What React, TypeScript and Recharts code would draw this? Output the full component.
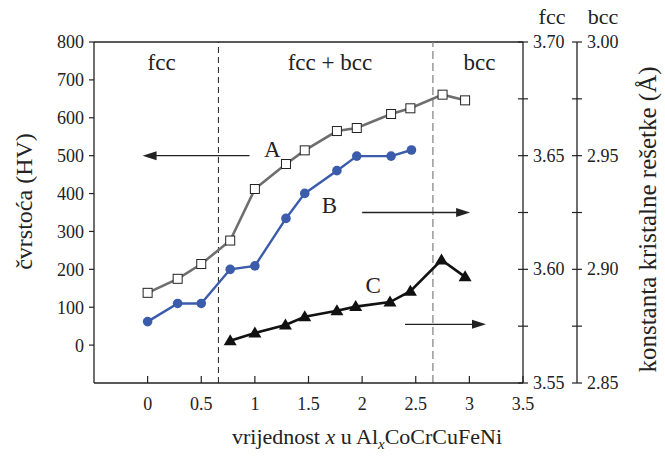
import React from "react";
import {
  ComposedChart,
  Line,
  XAxis,
  YAxis,
  ReferenceLine,
  ReferenceDot,
} from "recharts";

// A: tvrdoća (HV), lijeva os
const A_X = [0, 0.28, 0.5, 0.77, 1.0, 1.29, 1.465, 1.765, 1.95, 2.27, 2.45, 2.75, 2.96];
const A_HV = [138, 175, 214, 276, 412, 478, 514, 565, 573, 610, 625, 661, 646];

// B: konstanta rešetke fcc
const B_X = [0, 0.28, 0.5, 0.77, 1.0, 1.29, 1.465, 1.765, 1.95, 2.27, 2.46];
const B_FCC = [3.577, 3.585, 3.585, 3.6, 3.6015, 3.6224, 3.6334, 3.6434, 3.6498, 3.6498, 3.6525];

// C: konstanta rešetke bcc
const C_X = [0.77, 1.0, 1.285, 1.465, 1.765, 1.94, 2.26, 2.45, 2.74, 2.96];
const C_BCC = [2.8686, 2.872, 2.8755, 2.8791, 2.8818, 2.8836, 2.8856, 2.8904, 2.9041, 2.8967];

const X_TICKS = [0, 0.5, 1, 1.5, 2, 2.5, 3, 3.5];
const HV_TICKS = [0, 100, 200, 300, 400, 500, 600, 700, 800];
const FCC_TICKS = [3.55, 3.575, 3.6, 3.625, 3.65, 3.675, 3.7];
const BCC_TICKS = [2.85, 2.875, 2.9, 2.925, 2.95, 2.975, 3.0];

const PHASE_BOUNDS = [0.66, 2.66];

const aData = A_X.map((x, i) => ({ x, hv: A_HV[i] }));
const bData = B_X.map((x, i) => ({ x, fcc: B_FCC[i] }));
const cData = C_X.map((x, i) => ({ x, bcc: C_BCC[i] }));

// desne osi: unutarnja fcc, vanjska bcc
const FCC_AXIS = "rightA";
const BCC_AXIS = "rightB";

const FONT = '"Liberation Serif", "DejaVu Serif", serif';
const INK = "#222";

const SquareDot = (p: any) => (
  <rect x={p.cx - 4.5} y={p.cy - 4.5} width={9} height={9} fill="#fff" stroke="#222" strokeWidth={1} />
);
const CircleDot = (p: any) => <circle cx={p.cx} cy={p.cy} r={4.8} fill="#3a5cab" />;
const TriangleDot = (p: any) => (
  <polygon
    points={`${p.cx},${p.cy - 6.5} ${p.cx - 6.5},${p.cy + 4.5} ${p.cx + 6.5},${p.cy + 4.5}`}
    fill="#111"
  />
);

const XTick = ({ x, y, payload }: any) => (
  <g>
    <line x1={x} x2={x} y1={y} y2={y - 7} stroke={INK} strokeWidth={1.2} />
    <text x={x} y={y + 27} textAnchor="middle" fontFamily={FONT} fontSize={18} fill={INK}>
      {String(payload.value)}
    </text>
  </g>
);

const RightTick = ({ x, y, payload, index }: any) => (
  <g>
    <line x1={x - 5} x2={x + 5} y1={y} y2={y} stroke={INK} strokeWidth={1.2} />
    {index % 2 === 0 && (
      <text x={x + 10} y={y + 6} fontFamily={FONT} fontSize={18} fill={INK}>
        {Number(payload.value).toFixed(2)}
      </text>
    )}
  </g>
);

const Arrow = (p: any) => {
  const { x1, y1, x2, y2 } = p;
  const dir = x2 > x1 ? 1 : -1;
  return (
    <g>
      <line x1={x1} y1={y1} x2={x2 - dir * 8} y2={y2} stroke="#222" strokeWidth={1.4} />
      <polygon points={`${x2},${y2} ${x2 - dir * 14},${y2 - 4.5} ${x2 - dir * 14},${y2 + 4.5}`} fill="#222" />
    </g>
  );
};

const textShape = (txt: string, size: number) => (p: any) => (
  <text x={p.cx} y={p.cy} textAnchor="middle" fontFamily={FONT} fontSize={size} fill={INK}>
    {txt}
  </text>
);

const LeftTitle = ({ viewBox }: any) => {
  const cx = viewBox.x + 24;
  const cy = viewBox.y + viewBox.height / 2 - 11;
  return (
    <text
      x={cx}
      y={cy}
      transform={`rotate(-90 ${cx} ${cy})`}
      textAnchor="middle"
      dominantBaseline="central"
      fontFamily={FONT}
      fontSize={24}
      fill={INK}
    >
      čvrstoća (HV)
    </text>
  );
};

const FccTitle = ({ viewBox }: any) => (
  <text x={viewBox.x + 29} y={viewBox.y - 18} textAnchor="middle" fontFamily={FONT} fontSize={22} fill={INK}>
    fcc
  </text>
);

const BccTitle = ({ viewBox }: any) => {
  const cx = viewBox.x + 70;
  const cy = viewBox.y + viewBox.height / 2 + 7;
  return (
    <g>
      <text x={viewBox.x + 26} y={viewBox.y - 18} textAnchor="middle" fontFamily={FONT} fontSize={22} fill={INK}>
        bcc
      </text>
      <text
        x={cx}
        y={cy}
        transform={`rotate(-90 ${cx} ${cy})`}
        textAnchor="middle"
        dominantBaseline="central"
        fontFamily={FONT}
        fontSize={25}
        fill={INK}
      >
        konstanta kristalne rešetke (Å)
      </text>
    </g>
  );
};

const XTitle = ({ viewBox }: any) => (
  <text x={367} y={viewBox.y + 61} textAnchor="middle" fontFamily={FONT} fontSize={22} fill={INK}>
    <tspan>vrijednost </tspan>
    <tspan fontStyle="italic">x</tspan>
    <tspan> u Al</tspan>
    <tspan fontStyle="italic" fontSize={15} dy={5}>x</tspan>
    <tspan dy={-5}>CoCrCuFeNi</tspan>
  </text>
);

export default function App() {
  return (
    <div style={{ position: "absolute", left: 0, top: 0, background: "#fff" }}>
      <ComposedChart width={665} height={463} margin={{ top: 42, right: 0, bottom: 0, left: 0 }}>
        <XAxis
          type="number"
          dataKey="x"
          domain={[-0.5, 3.5]}
          ticks={X_TICKS}
          allowDataOverflow
          height={80}
          tickSize={0}
          tickMargin={0}
          tickLine={false}
          tick={<XTick />}
          axisLine={{ stroke: INK, strokeWidth: 1.3 }}
          label={<XTitle />}
        />
        <YAxis
          yAxisId="hv"
          domain={[-100, 800]}
          ticks={HV_TICKS}
          allowDataOverflow
          width={94}
          tickSize={5}
          tickMargin={5}
          tickLine={{ stroke: INK, strokeWidth: 1.2 }}
          axisLine={{ stroke: INK, strokeWidth: 1.3 }}
          tick={{ fontFamily: FONT, fontSize: 18, fill: INK }}
          label={<LeftTitle />}
        />
        <YAxis
          yAxisId={FCC_AXIS}
          orientation="right"
          domain={[3.55, 3.7]}
          ticks={FCC_TICKS}
          allowDataOverflow
          width={54}
          tickSize={0}
          tickMargin={0}
          tickLine={false}
          tick={<RightTick />}
          axisLine={{ stroke: INK, strokeWidth: 1.3 }}
          label={<FccTitle />}
        />
        <YAxis
          yAxisId={BCC_AXIS}
          orientation="right"
          domain={[2.85, 3.0]}
          ticks={BCC_TICKS}
          allowDataOverflow
          width={88}
          tickSize={0}
          tickMargin={0}
          tickLine={false}
          tick={<RightTick />}
          axisLine={{ stroke: INK, strokeWidth: 1.3 }}
          label={<BccTitle />}
        />

        <ReferenceLine yAxisId="hv" y={800} stroke={INK} strokeWidth={1.3} />
        <ReferenceLine yAxisId="hv" x={PHASE_BOUNDS[0]} stroke="#222" strokeDasharray="6 4" strokeWidth={1} />
        <ReferenceLine yAxisId="hv" x={PHASE_BOUNDS[1]} stroke="#888" strokeDasharray="8 4" strokeWidth={1.3} />

        <ReferenceDot yAxisId="hv" x={0.13} y={726} r={0} shape={textShape("fcc", 23)} />
        <ReferenceDot yAxisId="hv" x={1.7} y={726} r={0} shape={textShape("fcc + bcc", 23)} />
        <ReferenceDot yAxisId="hv" x={3.095} y={726} r={0} shape={textShape("bcc", 23)} />

        <ReferenceDot yAxisId="hv" x={1.163} y={496} r={0} shape={textShape("A", 23)} />
        <ReferenceDot yAxisId={FCC_AXIS} x={1.694} y={3.6248} r={0} shape={textShape("B", 23)} />
        <ReferenceDot yAxisId={BCC_AXIS} x={2.104} y={2.8896} r={0} shape={textShape("C", 23)} />

        <ReferenceLine yAxisId="hv" segment={[{ x: 0.95, y: 500 }, { x: -0.047, y: 500 }]} shape={<Arrow />} />
        <ReferenceLine yAxisId={FCC_AXIS} segment={[{ x: 2.0, y: 3.625 }, { x: 3.007, y: 3.625 }]} shape={<Arrow />} />
        <ReferenceLine yAxisId={BCC_AXIS} segment={[{ x: 2.4, y: 2.8758 }, { x: 3.155, y: 2.8758 }]} shape={<Arrow />} />

        <Line
          yAxisId="hv"
          data={aData}
          dataKey="hv"
          stroke="#6e6e6e"
          strokeWidth={2.6}
          dot={SquareDot}
          activeDot={false}
          isAnimationActive={false}
        />
        <Line
          yAxisId={FCC_AXIS}
          data={bData}
          dataKey="fcc"
          stroke="#3a5cab"
          strokeWidth={2.4}
          dot={CircleDot}
          activeDot={false}
          isAnimationActive={false}
        />
        <Line
          yAxisId={BCC_AXIS}
          data={cData}
          dataKey="bcc"
          stroke="#111"
          strokeWidth={2.6}
          dot={TriangleDot}
          activeDot={false}
          isAnimationActive={false}
        />
      </ComposedChart>
    </div>
  );
}
